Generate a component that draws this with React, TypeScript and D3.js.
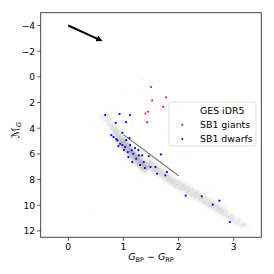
import * as d3 from 'd3'

// GES iDR5 main-sequence sample [colour, abs. mag]
const gesPoints: [number, number][] = [
  [0.62, 3.1], [0.68, 3.4], [0.71, 3.0], [0.74, 3.7], [0.77, 3.3], [0.79, 4.0], [0.81, 3.8], [0.83, 4.3],
  [0.84, 4.6], [0.86, 4.1], [0.87, 4.4], [0.88, 4.9], [0.9, 4.6], [0.91, 4.2], [0.92, 5.0], [0.93, 4.7],
  [0.94, 5.3], [0.95, 4.5], [0.96, 4.9], [0.97, 5.2], [0.98, 5.5], [0.99, 4.8], [1.0, 5.1], [1.01, 5.4],
  [1.02, 5.7], [1.03, 4.9], [1.04, 5.3], [1.05, 5.6], [1.06, 5.9], [1.07, 5.2], [1.08, 5.5], [1.09, 5.8],
  [1.1, 6.1], [1.11, 5.4], [1.12, 5.7], [1.13, 6.0], [1.14, 6.3], [1.15, 5.6], [1.16, 5.9], [1.17, 6.2],
  [1.18, 6.5], [1.19, 5.8], [1.2, 6.1], [1.21, 6.4], [1.22, 6.7], [1.23, 6.0], [1.24, 6.3], [1.25, 6.6],
  [1.26, 6.9], [1.27, 6.2], [1.28, 6.5], [1.29, 6.8], [1.3, 6.4], [1.31, 7.0], [1.32, 6.6], [1.33, 6.9],
  [1.34, 7.2], [1.35, 6.5], [1.36, 6.8], [1.37, 7.1], [1.38, 7.4], [1.4, 6.9], [1.41, 7.2], [1.42, 6.7],
  [1.44, 7.0], [1.45, 7.1], [1.47, 6.8], [1.48, 6.6], [1.5, 7.0], [1.52, 7.3], [1.53, 6.7], [1.55, 7.1],
  [1.57, 7.4], [1.58, 6.9], [1.6, 7.2], [1.62, 7.5], [1.64, 7.1], [1.66, 7.4], [1.68, 7.7], [1.7, 7.3],
  [1.72, 7.6], [1.74, 7.9], [1.76, 7.5], [1.78, 7.8], [1.8, 8.1], [1.82, 7.7], [1.84, 8.0], [1.86, 8.3],
  [1.88, 7.9], [1.9, 8.2], [1.93, 8.5], [1.95, 8.1], [1.97, 8.4], [2.0, 8.7], [2.02, 8.2], [2.05, 8.5],
  [2.07, 8.8], [2.1, 8.4], [2.12, 8.7], [2.15, 9.0], [2.18, 8.6], [2.2, 8.9], [2.23, 9.2], [2.25, 8.8],
  [2.28, 9.1], [2.3, 9.4], [2.33, 9.0], [2.36, 9.3], [2.38, 9.6], [2.4, 9.2], [2.43, 9.5], [2.46, 9.8],
  [2.48, 9.4], [2.5, 9.7], [2.53, 10.0], [2.56, 9.6], [2.58, 9.9], [2.6, 10.2], [2.63, 9.8], [2.66, 10.1],
  [2.68, 10.4], [2.7, 10.0], [2.73, 10.3], [2.76, 10.6], [2.78, 10.2], [2.8, 10.5], [2.84, 10.8], [2.87, 10.5],
  [2.9, 10.9], [2.94, 11.2], [2.97, 10.8], [3.0, 11.1], [3.05, 11.4], [3.1, 11.2], [3.15, 11.6], [3.2, 11.5],
  // denser core of the main sequence
  [0.95, 5.0], [1.0, 5.3], [1.02, 5.0], [1.05, 5.4], [1.08, 5.2], [1.1, 5.7], [1.12, 5.5], [1.15, 6.0],
  [1.18, 5.9], [1.2, 6.3], [1.22, 6.2], [1.25, 6.4], [1.28, 6.3], [1.3, 6.7], [1.33, 6.6], [1.36, 6.9],
  [0.98, 5.1], [1.06, 5.6], [1.14, 5.9], [1.24, 6.2], [1.32, 6.8], [1.4, 7.0],
]

// sparse GES giants and outliers
const gesSparse: [number, number][] = [
  [1.25, 1.4], [1.05, 1.3], [1.6, 2.3], [1.35, 0.2], [1.55, 0.5], [1.7, 1.9], [1.2, 2.8], [1.45, 3.0],
  [0.55, 2.9], [0.5, 3.8], [1.8, 4.0], [2.1, 6.2], [1.9, 5.8], [0.7, 5.0], [1.0, 6.8], [1.3, 8.0],
  [2.6, 8.9], [3.3, 11.8], [0.4, 10.3], [1.85, 2.7], [1.4, 1.0], [1.65, 0.3], [0.9, 2.5], [1.15, 3.6],
]

const giantColour = [1.5, 1.52, 1.77, 1.72, 1.45, 1.4, 1.43]
const giantMag = [0.78, 1.84, 1.58, 2.32, 2.72, 2.86, 3.53]

const dwarfColour = [
  0.67, 0.93, 1.12, 0.86, 1.05, 0.98, 0.78, 1.68,
  0.82, 0.87, 0.89, 0.94, 0.91, 0.98, 1.03, 1.01, 1.08, 1.15, 1.09, 1.18, 1.23, 1.12, 1.21,
  1.28, 1.34, 1.46, 1.37, 1.49, 1.58, 1.61, 1.76, 1.79, 1.3, 1.39, 1.16, 1.27, 1.05, 1.11,
  2.13, 2.42, 2.62, 2.74, 2.93,
]
const dwarfMag = [
  2.98, 2.9, 2.98, 3.58, 3.53, 4.36, 4.54, 6.04,
  4.69, 4.85, 4.95, 5.21, 5.39, 5.32, 5.47, 5.7, 5.86, 5.73, 6.25, 5.99, 6.38, 5.32, 5.55,
  6.12, 6.12, 6.19, 6.64, 7.03, 7.03, 7.55, 7.67, 7.42, 6.87, 7.1, 6.64, 5.7, 4.93, 4.77,
  9.26, 9.31, 9.96, 9.65, 11.31,
]

const xTicks = [0, 1, 2, 3]
const yTicks = [-4, -2, 0, 2, 4, 6, 8, 10, 12]

// reference line and shift arrow
const refLine: [number, number][] = [[1.0, 4.5], [2.0, 7.7]]
const arrow: [number, number][] = [[0, -4], [0.59, -2.85]]

const legendItems = [
  { label: 'GES iDR5', color: '#e4e4e4' },
  { label: 'SB1 giants', color: '#ff0000' },
  { label: 'SB1 dwarfs', color: '#0000ff' },
]

const W = 274
const H = 274
const margin = { top: 12.7, right: 12.7, bottom: 36.7, left: 40.7 }
const font = 'DejaVu Sans, sans-serif'

const App = () => {
  const x = d3.scaleLinear().domain([-0.5, 3.5]).range([margin.left, W - margin.right])
  const y = d3.scaleLinear().domain([-5, 12.5]).range([margin.top, H - margin.bottom])
  const line = d3.line<[number, number]>().x(d => x(d[0])).y(d => y(d[1]))
  const x0 = margin.left
  const x1 = W - margin.right
  const y0 = margin.top
  const y1 = H - margin.bottom

  return (
    <svg width={W} height={H} style={{ position: 'absolute', left: 0, top: 0 }} fontFamily={font}>
      <rect width={W} height={H} fill="#fff" />
      <defs>
        <marker id="head" viewBox="0 0 10 10" refX="7" refY="5" markerWidth="3.2" markerHeight="3.2" orient="auto">
          <path d="M0,0 L10,5 L0,10 z" fill="#000" />
        </marker>
        <filter id="haze" x="-10%" y="-10%" width="120%" height="120%">
          <feGaussianBlur stdDeviation="1.7" />
        </filter>
      </defs>

      <g filter="url(#haze)">
        {gesPoints.map((d, i) => (
          <circle key={'g' + i} cx={x(d[0])} cy={y(d[1])} r={2.3} fill="#808080" fillOpacity={0.2} />
        ))}
      </g>
      {gesPoints.map((d, i) => (
        <circle key={'gs' + i} cx={x(d[0])} cy={y(d[1])} r={0.5} fill="#999" fillOpacity={0.3} />
      ))}
      {gesSparse.map((d, i) => (
        <circle key={'gx' + i} cx={x(d[0])} cy={y(d[1])} r={0.6} fill="#aaa" fillOpacity={0.3} />
      ))}

      <path d={line(refLine) ?? ''} stroke="#777" strokeWidth={1.2} fill="none" />

      {giantColour.map((c, i) => (
        <circle key={'r' + i} cx={x(c)} cy={y(giantMag[i])} r={1} fill="#ff0000" />
      ))}
      {dwarfColour.map((c, i) => (
        <circle key={'b' + i} cx={x(c)} cy={y(dwarfMag[i])} r={1.1} fill="#0000ff" />
      ))}

      <path d={line(arrow) ?? ''} stroke="#000" strokeWidth={2} fill="none" markerEnd="url(#head)" />

      {/* legend */}
      <g>
        <rect x={169} y={102} width={87} height={44} rx={2} fill="#fff" fillOpacity={0.8} stroke="#d6d6d6" strokeWidth={0.8} />
        {legendItems.map((d, i) => (
          <g key={d.label}>
            <circle cx={182.3} cy={110.5 + i * 14.3} r={i === 0 ? 0.6 : 1} fill={d.color} />
            <text x={200} y={113.5 + i * 14.3} fontSize={9.4} fill="#000">{d.label}</text>
          </g>
        ))}
      </g>

      {/* axes */}
      <rect x={x0} y={y0} width={x1 - x0} height={y1 - y0} fill="none" stroke="#333" strokeWidth={0.9} />
      {xTicks.map(t => (
        <g key={'xt' + t}>
          <line x1={x(t)} x2={x(t)} y1={y1} y2={y1 + 3.5} stroke="#333" strokeWidth={0.8} />
          <text x={x(t)} y={y1 + 12.5} fontSize={9.2} textAnchor="middle" fill="#000">{t}</text>
        </g>
      ))}
      {yTicks.map(t => (
        <g key={'yt' + t}>
          <line x1={x0 - 3.5} x2={x0} y1={y(t)} y2={y(t)} stroke="#333" strokeWidth={0.8} />
          <text x={x0 - 5.5} y={y(t) + 3.3} fontSize={9.2} textAnchor="end" fill="#000">
            {t < 0 ? '\u2212' + Math.abs(t) : t}
          </text>
        </g>
      ))}

      <text x={(x0 + x1) / 2} y={260} fontSize={9.5} textAnchor="middle" fill="#000">
        <tspan fontStyle="italic">G</tspan>
        <tspan fontSize={6.5} dy={1.5}>BP</tspan>
        <tspan dy={-1.5}> − </tspan>
        <tspan fontStyle="italic">G</tspan>
        <tspan fontSize={6.5} dy={1.5}>RP</tspan>
      </text>

      <text transform={`translate(19,${(y0 + y1) / 2 + 5}) rotate(-90)`} fontSize={10.5} textAnchor="middle" fill="#000">
        <tspan fontStyle="italic">ℳ</tspan>
        <tspan fontSize={6.5} fontStyle="italic" dy={1.5}>G</tspan>
      </text>
    </svg>
  )
}

export default App
